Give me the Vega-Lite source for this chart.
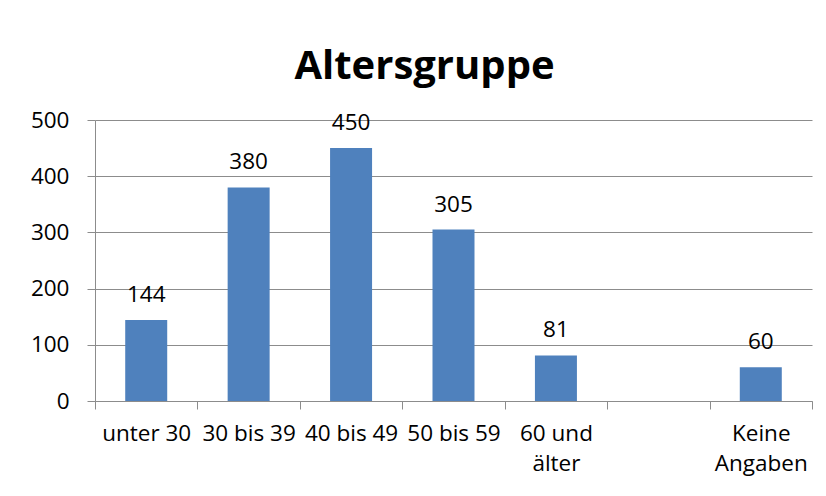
{
  "$schema": "https://vega.github.io/schema/vega-lite/v6.json",
  "width": 717,
  "height": 281,
  "autosize": {"type": "none"},
  "padding": {"left": 95, "top": 120, "right": 14, "bottom": 95},
  "background": "white",
  "title": {
    "text": "Altersgruppe",
    "font": "Open Sans",
    "fontSize": 40,
    "fontWeight": "bold",
    "color": "black",
    "anchor": "middle",
    "dx": -29,
    "offset": 22
  },
  "data": {
    "values": [
      {"gruppe": "unter 30", "anzahl": 144},
      {"gruppe": "30 bis 39", "anzahl": 380},
      {"gruppe": "40 bis 49", "anzahl": 450},
      {"gruppe": "50 bis 59", "anzahl": 305},
      {"gruppe": "60 und älter", "anzahl": 81},
      {"gruppe": "Keine Angaben", "anzahl": 60}
    ]
  },
  "encoding": {
    "x": {
      "field": "gruppe",
      "type": "nominal",
      "sort": null,
      "scale": {
        "domain": ["unter 30", "30 bis 39", "40 bis 49", "50 bis 59", "60 und älter", "", "Keine Angaben"],
        "paddingInner": 0,
        "paddingOuter": 0
      },
      "axis": {
        "title": null,
        "labelAngle": 0,
        "labelFont": "Open Sans",
        "labelFontSize": 22.5,
        "labelColor": "black",
        "labelPadding": 13,
        "labelLineHeight": 30,
        "labelOverlap": false,
        "labelExpr": "datum.value == '60 und älter' ? ['60 und', 'älter'] : datum.value == 'Keine Angaben' ? ['Keine', 'Angaben'] : datum.value",
        "tickBand": "extent",
        "tickSize": 8,
        "tickColor": "#8c8c8c",
        "domainColor": "#8c8c8c",
        "grid": false
      }
    },
    "y": {
      "field": "anzahl",
      "type": "quantitative",
      "scale": {"domain": [0, 500], "nice": false},
      "axis": {
        "title": null,
        "values": [0, 100, 200, 300, 400, 500],
        "labelFont": "Open Sans",
        "labelFontSize": 22.5,
        "labelColor": "black",
        "labelPadding": 18,
        "tickSize": 8,
        "tickColor": "#8c8c8c",
        "domainColor": "#8c8c8c",
        "gridColor": "#8c8c8c",
        "grid": true
      }
    }
  },
  "layer": [
    {"mark": {"type": "bar", "color": "#4F81BD", "width": {"band": 0.41}}},
    {
      "mark": {"type": "text", "font": "Open Sans", "fontSize": 22.5, "baseline": "alphabetic", "dy": -18, "color": "black"},
      "encoding": {"text": {"field": "anzahl", "type": "quantitative"}}
    }
  ],
  "config": {"view": {"stroke": null}}
}
